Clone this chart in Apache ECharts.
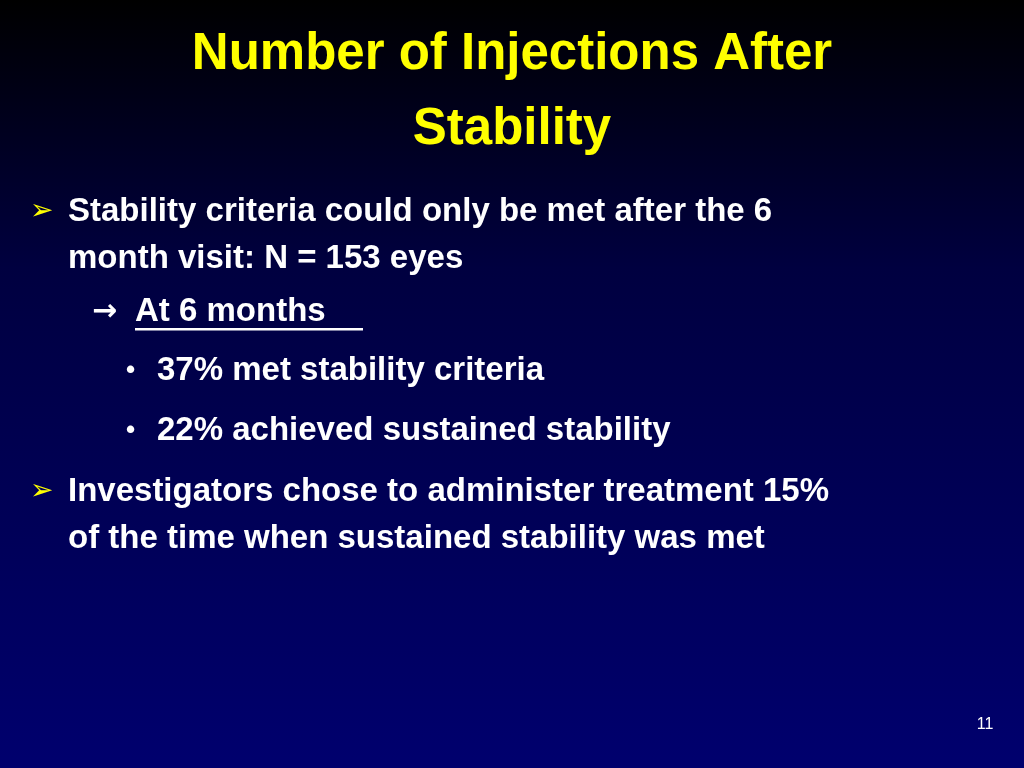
<!DOCTYPE html>
<html><head><meta charset="utf-8">
<script src="https://cdn.jsdelivr.net/npm/echarts@6/dist/echarts.min.js"></script>
<style>html,body{margin:0;padding:0;}#c{width:1024px;height:768px;}</style>
</head><body><div id="c"></div>
<script>
const titleLines = ["Number of Injections After", "Stability"];
const bullet1Lines = ["Stability criteria could only be met after the 6", "month visit: N = 153 eyes"];
const subHeading = "At 6 months";
const subBullets = ["37% met stability criteria", "22% achieved sustained stability"];
const bullet2Lines = ["Investigators chose to administer treatment 15%", "of the time when sustained stability was met"];
const pageNumber = "11";

const F = 'Liberation Sans';
const body = {fill:'#ffffff', fontFamily:F, fontWeight:'bold', fontSize:33};
const els = [];
function txt(x, y, t, style, align) {
  els.push({type:'text', x:x, y:y, style:Object.assign({text:t, textAlign:align||'left', textVerticalAlign:'middle'}, style)});
}
titleLines.forEach((t,i)=>txt(512, 55+i*75, t, {fill:'#ffff00', fontFamily:F, fontWeight:'bold', fontSize:51}, 'center'));
txt(30, 212, '➢', {fill:'#ffff00', fontFamily:'DejaVu Sans', fontSize:28});
bullet1Lines.forEach((t,i)=>txt(68, 212+i*47, t, body));
txt(92, 312, '→', {fill:'#ffffff', fontFamily:'DejaVu Sans', fontWeight:'bold', fontSize:30});
txt(135, 312, subHeading, body);
els.push({type:'rect', shape:{x:135, y:328, width:228, height:2.5}, style:{fill:'#ffffff'}});
subBullets.forEach((t,i)=>{
  txt(126, 371+i*60, '•', {fill:'#ffffff', fontFamily:F, fontWeight:'bold', fontSize:26});
  txt(157, 371+i*60, t, body);
});
txt(30, 492, '➢', {fill:'#ffff00', fontFamily:'DejaVu Sans', fontSize:28});
bullet2Lines.forEach((t,i)=>txt(68, 492+i*47, t, body));
txt(985, 725, pageNumber, {fill:'#ffffff', fontFamily:F, fontSize:16}, 'center');

const chart = echarts.init(document.getElementById('c'));
chart.setOption({
  backgroundColor: new echarts.graphic.LinearGradient(0,0,0,1,[
    {offset:0, color:'#000000'},{offset:0.35, color:'#000040'},{offset:1, color:'#00006e'}]),
  graphic: els
});
</script></body></html>
